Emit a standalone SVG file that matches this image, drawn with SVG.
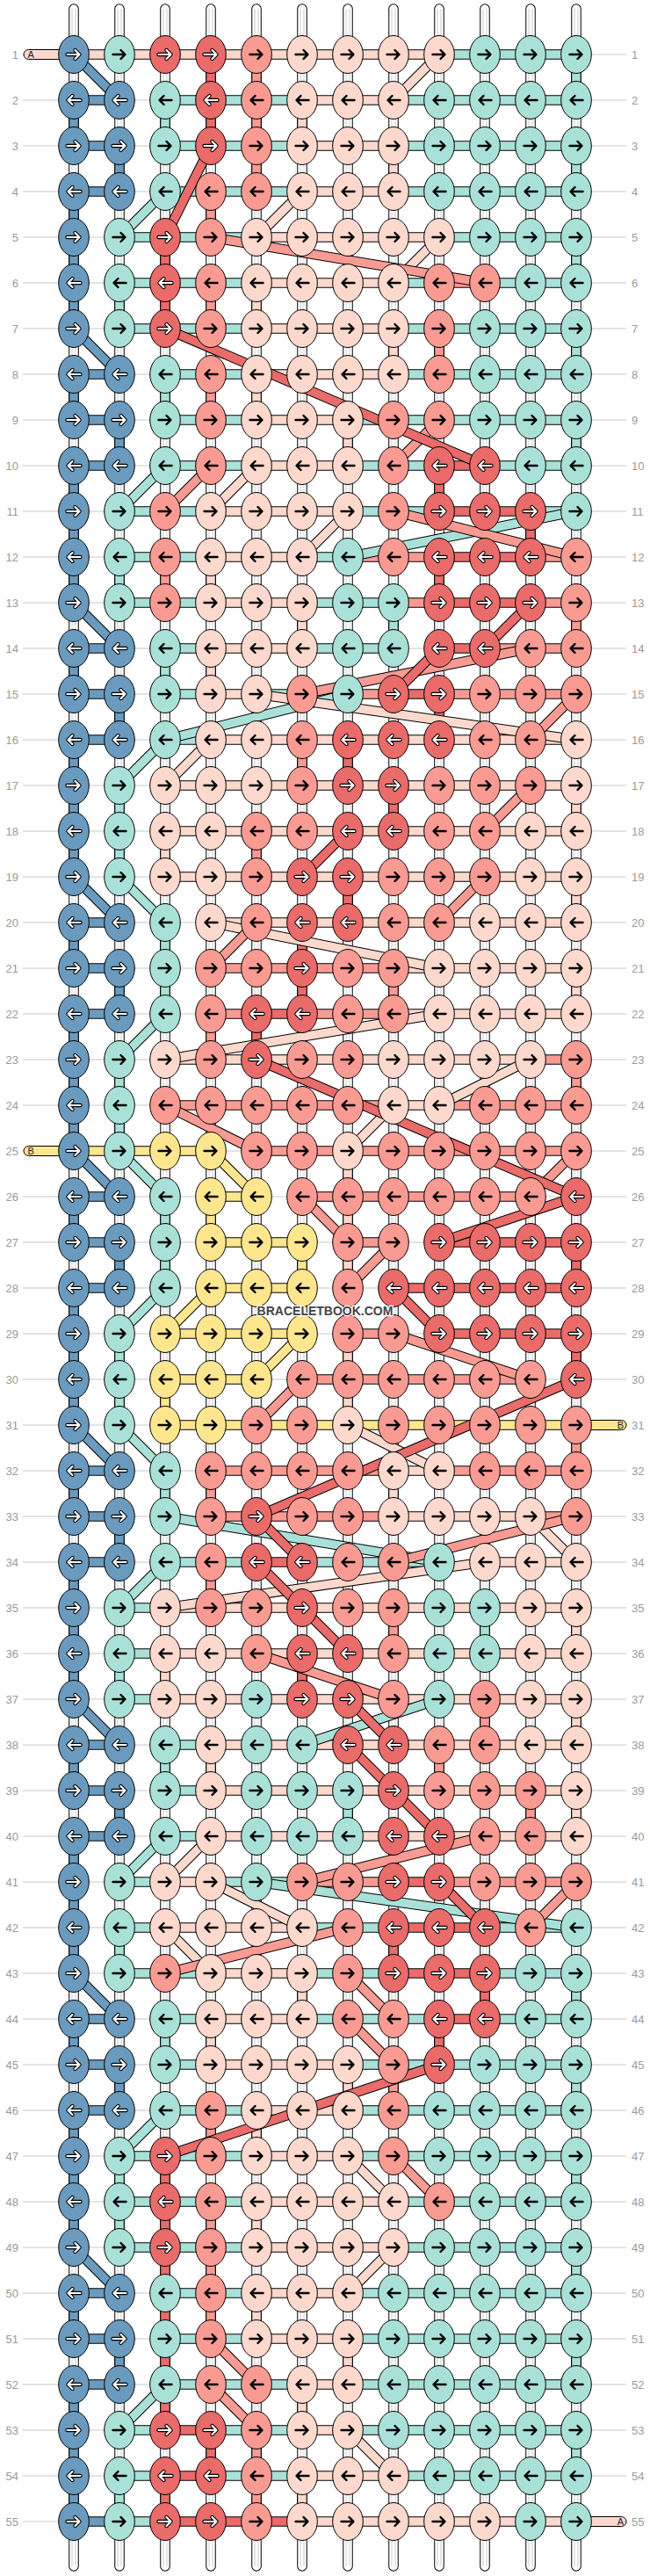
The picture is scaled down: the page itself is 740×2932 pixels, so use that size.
<svg xmlns="http://www.w3.org/2000/svg" width="740" height="2932" viewBox="0 0 740 2932">
<style>
.gl{fill:none;stroke:#c8c8c8;stroke-width:1}
.lb{font:13px "Liberation Sans",Arial,sans-serif;fill:#9a9a9a}
.e{stroke:#000;stroke-width:1}
.o{fill:none;stroke:#000;stroke-width:11.5}
.c{fill:none;stroke-width:9.5}
.bk{fill:none;stroke:#000;stroke-width:2.4;stroke-linecap:round;stroke-linejoin:round}
.wo{fill:none;stroke:#000;stroke-width:4.4;stroke-linecap:round;stroke-linejoin:round}
.wi{fill:none;stroke:#fff;stroke-width:2.2;stroke-linecap:round;stroke-linejoin:round}
.pl{font:11px "Liberation Sans",Arial,sans-serif;fill:#222}
</style>
<defs>
<path id="ar" d="M-7.5 0H6M1.5-5L6.5 0L1.5 5"/>
<path id="al" d="M7.5 0H-6M-1.5-5L-6.5 0L-1.5 5"/>
<g id="Br"><ellipse class="e" rx="17.3" ry="21.5" fill="#6a9bbf"/><use href="#ar" class="wo"/><use href="#ar" class="wi"/></g>
<g id="Bl"><ellipse class="e" rx="17.3" ry="21.5" fill="#6a9bbf"/><use href="#al" class="wo"/><use href="#al" class="wi"/></g>
<g id="Rr"><ellipse class="e" rx="17.3" ry="21.5" fill="#e96b6a"/><use href="#ar" class="wo"/><use href="#ar" class="wi"/></g>
<g id="Rl"><ellipse class="e" rx="17.3" ry="21.5" fill="#e96b6a"/><use href="#al" class="wo"/><use href="#al" class="wi"/></g>
<g id="Mr"><ellipse class="e" rx="17.3" ry="21.5" fill="#a9e1d8"/><use href="#ar" class="bk"/></g>
<g id="Ml"><ellipse class="e" rx="17.3" ry="21.5" fill="#a9e1d8"/><use href="#al" class="bk"/></g>
<g id="Sr"><ellipse class="e" rx="17.3" ry="21.5" fill="#f99b93"/><use href="#ar" class="bk"/></g>
<g id="Sl"><ellipse class="e" rx="17.3" ry="21.5" fill="#f99b93"/><use href="#al" class="bk"/></g>
<g id="Pr"><ellipse class="e" rx="17.3" ry="21.5" fill="#fdd8cd"/><use href="#ar" class="bk"/></g>
<g id="Pl"><ellipse class="e" rx="17.3" ry="21.5" fill="#fdd8cd"/><use href="#al" class="bk"/></g>
<g id="Yr"><ellipse class="e" rx="17.3" ry="21.5" fill="#fee68f"/><use href="#ar" class="bk"/></g>
<g id="Yl"><ellipse class="e" rx="17.3" ry="21.5" fill="#fee68f"/><use href="#al" class="bk"/></g>
<path id="sp" d="M84 10V2921M136 10V2921M188 10V2921M240 10V2921M292 10V2921M344 10V2921M396 10V2921M448 10V2921M500 10V2921M552 10V2921M604 10V2921M656 10V2921"/>
<path id="vB" d="M84 114V166M84 218V374M84 426V478M84 530V686M84 738V790M84 842V998M84 1050V1102M84 1154V1310M84 1362V1414M84 1466V1622M84 1674V1726M84 1778V1934M84 1986V2038M84 2090V2246M84 2298V2350M84 2402V2558M84 2610V2662M84 2714V2870M136 166V218M136 478V530M136 790V842M136 1102V1154M136 1414V1466M136 1726V1778M136 2038V2090M136 2350V2402M136 2662V2714"/>
<path id="vM" d="M656 62V114M656 166V218M656 270V322M656 374V426M656 478V530M656 2246V2298M656 2350V2402M656 2454V2506M656 2558V2610M656 2662V2714M656 2766V2818M188 114V166M188 426V478M188 738V790M188 1050V1154M188 1362V1466M188 1674V1726M188 1986V2038M188 2298V2350M136 322V374M136 634V686M136 894V998M136 1206V1310M136 1518V1622M136 1882V1934M136 2194V2246M136 2454V2558M136 2818V2870M448 686V738M552 1830V1882M396 2038V2090"/>
<path id="vR" d="M240 62V166M240 2766V2818M188 270V374M188 2454V2766M188 2818V2870M500 530V582M500 634V686M500 790V842M500 2298V2350M604 582V634M396 842V894M396 998V1050M448 894V946M448 2090V2142M448 2194V2246M344 1050V1154M344 1882V1934M292 1154V1206M656 1414V1466M656 1518V1570M552 2246V2298"/>
<path id="vS" d="M292 62V218M292 946V998M292 2766V2870M240 218V270M240 322V374M240 426V478M240 1154V1206M240 1674V1726M240 1778V1830M240 2402V2454M240 2506V2662M500 374V426M500 1986V2038M188 634V686M656 686V738M656 1206V1258M656 1622V1674M344 842V894M448 1102V1154M448 1830V1882M448 2350V2402M552 1934V1986M604 2038V2090"/>
<path id="vP" d="M344 114V166M344 686V738M344 2246V2298M344 2714V2766M344 2818V2870M448 166V218M448 374V426M448 1674V1726M292 322V374M292 426V478M292 2402V2454M292 2506V2558M292 2610V2662M396 478V530M396 1310V1622M396 2350V2402M396 2662V2714M240 634V686M240 738V790M240 1986V2038M240 2298V2350M656 894V946M656 998V1050M656 1102V1154M656 1830V1882M656 1934V1986M656 2038V2090M188 946V998M188 1882V1934"/>
<path id="vY" d="M240 1362V1414M344 1414V1466M188 1570V1622"/>
<path id="hP" d="M84 62H500M344 114H448M344 166H448M344 218H448M292 270H500M292 322H448M292 374H448M292 426H448M292 478H396M292 530H396M240 582H396M240 634H344M240 686H344M240 738H344M240 790H292M240 842H656M188 894H656M188 946H656M188 998H656M240 1050H656M448 1102H656M448 1154H656M188 1206H604M448 1258H500M448 1674H500M448 1726H604M552 1778H656M188 1830H656M188 1882H656M188 1934H656M240 1986H656M240 2038H656M240 2090H656M188 2142H240M188 2194H344M240 2246H344M240 2298H344M240 2350H396M292 2402H396M292 2454H396M292 2506H448M292 2558H448M292 2610H396M292 2662H396M344 2714H396M344 2766H396M344 2818H448M344 2870H656"/>
<path id="hM" d="M500 62H656M188 114H344M448 114H656M188 166H344M448 166H656M188 218H344M448 218H656M136 270H292M500 270H656M136 322H292M448 322H500M552 322H656M136 374H292M448 374H656M188 426H292M448 426H656M188 478H292M396 478H656M188 530H292M396 530H500M552 530H656M136 582H240M396 582H500M604 582H656M136 634H240M344 634H396M136 686H240M344 686H448M188 738H240M344 738H448M188 790H240M292 790H396M188 842H240M188 1778H292M344 1778H500M136 1830H188M136 1882H188M136 1934H188M188 1986H240M188 2038H240M188 2090H240M136 2142H188M240 2142H344M136 2194H188M344 2194H448M552 2194H656M136 2246H240M344 2246H448M552 2246H656M188 2298H240M344 2298H500M552 2298H656M188 2350H240M396 2350H656M188 2402H292M396 2402H656M136 2454H292M396 2454H656M136 2506H292M448 2506H656M136 2558H292M448 2558H656M188 2610H292M396 2610H656M188 2662H292M396 2662H656M188 2714H344M396 2714H656M136 2766H188M240 2766H344M396 2766H656M136 2818H188M240 2818H344M448 2818H656M136 2870H188"/>
<path id="hB" d="M84 114H136M84 166H136M84 218H136M84 426H136M84 478H136M84 530H136M84 738H136M84 790H136M84 842H136M84 1050H136M84 1102H136M84 1154H136M84 1362H136M84 1414H136M84 1466H136M84 1674H136M84 1726H136M84 1778H136M84 1986H136M84 2038H136M84 2090H136M84 2298H136M84 2350H136M84 2402H136M84 2610H136M84 2662H136M84 2714H136M84 2870H136"/>
<path id="hS" d="M500 322H552M396 634H500M604 634H656M448 686H500M604 686H656M552 738H656M396 790H448M500 790H656M240 1102H448M240 1154H292M344 1154H448M604 1206H656M188 1258H448M500 1258H656M292 1310H656M344 1362H604M396 1414H448M396 1518H448M344 1570H604M240 1674H448M500 1674H656M240 1726H448M604 1726H656M344 2142H448M500 2142H656"/>
<path id="hR" d="M500 530H552M500 582H604M500 634H604M500 686H604M500 738H552M448 790H500M292 1154H344M500 1414H656M448 1466H656M500 1518H656M292 1778H344M448 2142H500M448 2194H552M448 2246H552M500 2298H552M188 2766H240M188 2818H240M188 2870H344"/>
<path id="hY" d="M84 1310H240M240 1362H292M240 1414H344M240 1466H344M188 1518H344M188 1570H292M188 1622H656"/>
<path id="dB" d="M84 62L136 114M84 374L136 426M84 686L136 738M84 998L136 1050M84 1310L136 1362M84 1622L136 1674M84 1934L136 1986M84 2246L136 2298M84 2558L136 2610"/>
<path id="dM" d="M188 218L136 270M188 530L136 582M188 842L136 894M188 1154L136 1206M188 1466L136 1518M188 1778L136 1830M188 2090L136 2142M188 2402L136 2454M188 2714L136 2766M136 998L188 1050M136 1310L188 1362M136 1622L188 1674M656 582L396 634M396 790L188 842M188 1726L500 1778M500 1934L344 1986M292 2142L656 2194"/>
<path id="dR" d="M240 166L188 270M188 374L552 530M604 686L552 738M500 738L448 790M396 946L344 998M292 1206L656 1362M656 1362L500 1414M448 1466L500 1518M656 1570L292 1726M292 1726L344 1778M292 1778L344 1830M344 1830L396 1882M396 1934L448 1986M396 1986L448 2038M448 2038L500 2090M500 2142L552 2194M500 2350L188 2454"/>
<path id="dS" d="M240 270L552 322M500 478L448 530M240 530L188 582M448 582L656 634M604 738L344 790M656 790L604 842M604 894L552 946M552 998L500 1050M292 1050L240 1102M188 1258L292 1310M656 1310L604 1362M344 1362L396 1414M448 1414L396 1466M448 1518L604 1570M344 1570L292 1622M656 1726L448 1778M292 1882L448 1934M552 2090L344 2142M656 2142L604 2194M396 2194L188 2246M396 2246L448 2298M396 2298L448 2350M448 2454L500 2506M240 2662L292 2714M240 2714L292 2766"/>
<path id="dP" d="M500 62L448 114M344 218L292 270M500 270L448 322M292 530L240 582M396 582L344 634M292 790L656 842M240 842L188 894M240 1050L500 1102M500 1154L188 1206M604 1206L500 1258M448 1258L396 1310M396 1622L500 1674M604 1726L656 1778M552 1778L188 1830M240 2090L188 2142M240 2142L344 2194M188 2194L240 2246M396 2454L448 2506M448 2558L396 2610M396 2766L448 2818"/>
<path id="dY" d="M240 1310L292 1362M240 1466L188 1518M344 1518L292 1570"/>
</defs>
<rect width="740" height="2932" fill="#fff"/>
<path class="gl" d="M26 62H713M26 114H713M26 166H713M26 218H713M26 270H713M26 322H713M26 374H713M26 426H713M26 478H713M26 530H713M26 582H713M26 634H713M26 686H713M26 738H713M26 790H713M26 842H713M26 894H713M26 946H713M26 998H713M26 1050H713M26 1102H713M26 1154H713M26 1206H713M26 1258H713M26 1310H713M26 1362H713M26 1414H713M26 1466H713M26 1518H713M26 1570H713M26 1622H713M26 1674H713M26 1726H713M26 1778H713M26 1830H713M26 1882H713M26 1934H713M26 1986H713M26 2038H713M26 2090H713M26 2142H713M26 2194H713M26 2246H713M26 2298H713M26 2350H713M26 2402H713M26 2454H713M26 2506H713M26 2558H713M26 2610H713M26 2662H713M26 2714H713M26 2766H713M26 2818H713M26 2870H713"/>
<g id="strings">
<use href="#sp" fill="none" stroke="#000" stroke-width="11.5" stroke-linecap="round"/>
<use href="#sp" fill="none" stroke="#fff" stroke-width="9.5" stroke-linecap="round"/>
<use href="#sp" fill="none" stroke="#cdcdcd" stroke-width="1" transform="translate(-2,0)"/>
<use href="#sp" fill="none" stroke="#cdcdcd" stroke-width="1" transform="translate(2,0)"/>
</g>
<g id="pills">
<rect x="27" y="56.5" width="62" height="11" rx="5.5" fill="#fdd8cd" stroke="#000"/>
<rect x="27" y="1304.5" width="62" height="11" rx="5.5" fill="#fee68f" stroke="#000"/>
<rect x="651" y="1616.5" width="62" height="11" rx="5.5" fill="#fee68f" stroke="#000"/>
<rect x="651" y="2864.5" width="62" height="11" rx="5.5" fill="#fdd8cd" stroke="#000"/>
<text class="pl" x="31.5" y="66">A</text>
<text class="pl" x="31.5" y="1314">B</text>
<text class="pl" x="710" y="1626" text-anchor="end">B</text>
<text class="pl" x="710" y="2874" text-anchor="end">A</text>
</g>
<g id="connectors">
<use href="#vB" class="o"/><use href="#vB" class="c" stroke="#6a9bbf"/>
<use href="#vM" class="o"/><use href="#vM" class="c" stroke="#a9e1d8"/>
<use href="#vR" class="o"/><use href="#vR" class="c" stroke="#e96b6a"/>
<use href="#vS" class="o"/><use href="#vS" class="c" stroke="#f99b93"/>
<use href="#vP" class="o"/><use href="#vP" class="c" stroke="#fdd8cd"/>
<use href="#vY" class="o"/><use href="#vY" class="c" stroke="#fee68f"/>
<use href="#hP" class="o"/><use href="#hP" class="c" stroke="#fdd8cd"/>
<use href="#hM" class="o"/><use href="#hM" class="c" stroke="#a9e1d8"/>
<use href="#hB" class="o"/><use href="#hB" class="c" stroke="#6a9bbf"/>
<use href="#hS" class="o"/><use href="#hS" class="c" stroke="#f99b93"/>
<use href="#hR" class="o"/><use href="#hR" class="c" stroke="#e96b6a"/>
<use href="#hY" class="o"/><use href="#hY" class="c" stroke="#fee68f"/>
<use href="#dB" class="o"/><use href="#dB" class="c" stroke="#6a9bbf"/>
<use href="#dM" class="o"/><use href="#dM" class="c" stroke="#a9e1d8"/>
<use href="#dP" class="o"/><use href="#dP" class="c" stroke="#fdd8cd"/>
<use href="#dS" class="o"/><use href="#dS" class="c" stroke="#f99b93"/>
<use href="#dR" class="o"/><use href="#dR" class="c" stroke="#e96b6a"/>
<use href="#dY" class="o"/><use href="#dY" class="c" stroke="#fee68f"/>
</g>
<g id="knots">
<g id="row1" transform="translate(0,62)"><text class="lb" x="21" y="4.5" text-anchor="end">1</text><text class="lb" x="719" y="4.5">1</text><use id="k1_1" href="#Br" x="84"/><use id="k1_2" href="#Mr" x="136"/><use id="k1_3" href="#Rr" x="188"/><use id="k1_4" href="#Rr" x="240"/><use id="k1_5" href="#Sr" x="292"/><use id="k1_6" href="#Pr" x="344"/><use id="k1_7" href="#Pr" x="396"/><use id="k1_8" href="#Pr" x="448"/><use id="k1_9" href="#Pr" x="500"/><use id="k1_10" href="#Mr" x="552"/><use id="k1_11" href="#Mr" x="604"/><use id="k1_12" href="#Mr" x="656"/></g>
<g id="row2" transform="translate(0,114)"><text class="lb" x="21" y="4.5" text-anchor="end">2</text><text class="lb" x="719" y="4.5">2</text><use id="k2_1" href="#Bl" x="84"/><use id="k2_2" href="#Bl" x="136"/><use id="k2_3" href="#Ml" x="188"/><use id="k2_4" href="#Rl" x="240"/><use id="k2_5" href="#Sl" x="292"/><use id="k2_6" href="#Pl" x="344"/><use id="k2_7" href="#Pl" x="396"/><use id="k2_8" href="#Pl" x="448"/><use id="k2_9" href="#Ml" x="500"/><use id="k2_10" href="#Ml" x="552"/><use id="k2_11" href="#Ml" x="604"/><use id="k2_12" href="#Ml" x="656"/></g>
<g id="row3" transform="translate(0,166)"><text class="lb" x="21" y="4.5" text-anchor="end">3</text><text class="lb" x="719" y="4.5">3</text><use id="k3_1" href="#Br" x="84"/><use id="k3_2" href="#Br" x="136"/><use id="k3_3" href="#Mr" x="188"/><use id="k3_4" href="#Rr" x="240"/><use id="k3_5" href="#Sr" x="292"/><use id="k3_6" href="#Pr" x="344"/><use id="k3_7" href="#Pr" x="396"/><use id="k3_8" href="#Pr" x="448"/><use id="k3_9" href="#Mr" x="500"/><use id="k3_10" href="#Mr" x="552"/><use id="k3_11" href="#Mr" x="604"/><use id="k3_12" href="#Mr" x="656"/></g>
<g id="row4" transform="translate(0,218)"><text class="lb" x="21" y="4.5" text-anchor="end">4</text><text class="lb" x="719" y="4.5">4</text><use id="k4_1" href="#Bl" x="84"/><use id="k4_2" href="#Bl" x="136"/><use id="k4_3" href="#Ml" x="188"/><use id="k4_4" href="#Sl" x="240"/><use id="k4_5" href="#Sl" x="292"/><use id="k4_6" href="#Pl" x="344"/><use id="k4_7" href="#Pl" x="396"/><use id="k4_8" href="#Pl" x="448"/><use id="k4_9" href="#Ml" x="500"/><use id="k4_10" href="#Ml" x="552"/><use id="k4_11" href="#Ml" x="604"/><use id="k4_12" href="#Ml" x="656"/></g>
<g id="row5" transform="translate(0,270)"><text class="lb" x="21" y="4.5" text-anchor="end">5</text><text class="lb" x="719" y="4.5">5</text><use id="k5_1" href="#Br" x="84"/><use id="k5_2" href="#Mr" x="136"/><use id="k5_3" href="#Rr" x="188"/><use id="k5_4" href="#Sr" x="240"/><use id="k5_5" href="#Pr" x="292"/><use id="k5_6" href="#Pr" x="344"/><use id="k5_7" href="#Pr" x="396"/><use id="k5_8" href="#Pr" x="448"/><use id="k5_9" href="#Pr" x="500"/><use id="k5_10" href="#Mr" x="552"/><use id="k5_11" href="#Mr" x="604"/><use id="k5_12" href="#Mr" x="656"/></g>
<g id="row6" transform="translate(0,322)"><text class="lb" x="21" y="4.5" text-anchor="end">6</text><text class="lb" x="719" y="4.5">6</text><use id="k6_1" href="#Bl" x="84"/><use id="k6_2" href="#Ml" x="136"/><use id="k6_3" href="#Rl" x="188"/><use id="k6_4" href="#Sl" x="240"/><use id="k6_5" href="#Pl" x="292"/><use id="k6_6" href="#Pl" x="344"/><use id="k6_7" href="#Pl" x="396"/><use id="k6_8" href="#Pl" x="448"/><use id="k6_9" href="#Sl" x="500"/><use id="k6_10" href="#Sl" x="552"/><use id="k6_11" href="#Ml" x="604"/><use id="k6_12" href="#Ml" x="656"/></g>
<g id="row7" transform="translate(0,374)"><text class="lb" x="21" y="4.5" text-anchor="end">7</text><text class="lb" x="719" y="4.5">7</text><use id="k7_1" href="#Br" x="84"/><use id="k7_2" href="#Mr" x="136"/><use id="k7_3" href="#Rr" x="188"/><use id="k7_4" href="#Sr" x="240"/><use id="k7_5" href="#Pr" x="292"/><use id="k7_6" href="#Pr" x="344"/><use id="k7_7" href="#Pr" x="396"/><use id="k7_8" href="#Pr" x="448"/><use id="k7_9" href="#Sr" x="500"/><use id="k7_10" href="#Mr" x="552"/><use id="k7_11" href="#Mr" x="604"/><use id="k7_12" href="#Mr" x="656"/></g>
<g id="row8" transform="translate(0,426)"><text class="lb" x="21" y="4.5" text-anchor="end">8</text><text class="lb" x="719" y="4.5">8</text><use id="k8_1" href="#Bl" x="84"/><use id="k8_2" href="#Bl" x="136"/><use id="k8_3" href="#Ml" x="188"/><use id="k8_4" href="#Sl" x="240"/><use id="k8_5" href="#Pl" x="292"/><use id="k8_6" href="#Pl" x="344"/><use id="k8_7" href="#Pl" x="396"/><use id="k8_8" href="#Pl" x="448"/><use id="k8_9" href="#Sl" x="500"/><use id="k8_10" href="#Ml" x="552"/><use id="k8_11" href="#Ml" x="604"/><use id="k8_12" href="#Ml" x="656"/></g>
<g id="row9" transform="translate(0,478)"><text class="lb" x="21" y="4.5" text-anchor="end">9</text><text class="lb" x="719" y="4.5">9</text><use id="k9_1" href="#Br" x="84"/><use id="k9_2" href="#Br" x="136"/><use id="k9_3" href="#Mr" x="188"/><use id="k9_4" href="#Sr" x="240"/><use id="k9_5" href="#Pr" x="292"/><use id="k9_6" href="#Pr" x="344"/><use id="k9_7" href="#Pr" x="396"/><use id="k9_8" href="#Sr" x="448"/><use id="k9_9" href="#Sr" x="500"/><use id="k9_10" href="#Mr" x="552"/><use id="k9_11" href="#Mr" x="604"/><use id="k9_12" href="#Mr" x="656"/></g>
<g id="row10" transform="translate(0,530)"><text class="lb" x="21" y="4.5" text-anchor="end">10</text><text class="lb" x="719" y="4.5">10</text><use id="k10_1" href="#Bl" x="84"/><use id="k10_2" href="#Bl" x="136"/><use id="k10_3" href="#Ml" x="188"/><use id="k10_4" href="#Sl" x="240"/><use id="k10_5" href="#Pl" x="292"/><use id="k10_6" href="#Pl" x="344"/><use id="k10_7" href="#Pl" x="396"/><use id="k10_8" href="#Sl" x="448"/><use id="k10_9" href="#Rl" x="500"/><use id="k10_10" href="#Rl" x="552"/><use id="k10_11" href="#Ml" x="604"/><use id="k10_12" href="#Ml" x="656"/></g>
<g id="row11" transform="translate(0,582)"><text class="lb" x="21" y="4.5" text-anchor="end">11</text><text class="lb" x="719" y="4.5">11</text><use id="k11_1" href="#Br" x="84"/><use id="k11_2" href="#Mr" x="136"/><use id="k11_3" href="#Sr" x="188"/><use id="k11_4" href="#Pr" x="240"/><use id="k11_5" href="#Pr" x="292"/><use id="k11_6" href="#Pr" x="344"/><use id="k11_7" href="#Pr" x="396"/><use id="k11_8" href="#Sr" x="448"/><use id="k11_9" href="#Rr" x="500"/><use id="k11_10" href="#Rr" x="552"/><use id="k11_11" href="#Rr" x="604"/><use id="k11_12" href="#Mr" x="656"/></g>
<g id="row12" transform="translate(0,634)"><text class="lb" x="21" y="4.5" text-anchor="end">12</text><text class="lb" x="719" y="4.5">12</text><use id="k12_1" href="#Bl" x="84"/><use id="k12_2" href="#Ml" x="136"/><use id="k12_3" href="#Sl" x="188"/><use id="k12_4" href="#Pl" x="240"/><use id="k12_5" href="#Pl" x="292"/><use id="k12_6" href="#Pl" x="344"/><use id="k12_7" href="#Ml" x="396"/><use id="k12_8" href="#Sl" x="448"/><use id="k12_9" href="#Rl" x="500"/><use id="k12_10" href="#Rl" x="552"/><use id="k12_11" href="#Rl" x="604"/><use id="k12_12" href="#Sl" x="656"/></g>
<g id="row13" transform="translate(0,686)"><text class="lb" x="21" y="4.5" text-anchor="end">13</text><text class="lb" x="719" y="4.5">13</text><use id="k13_1" href="#Br" x="84"/><use id="k13_2" href="#Mr" x="136"/><use id="k13_3" href="#Sr" x="188"/><use id="k13_4" href="#Pr" x="240"/><use id="k13_5" href="#Pr" x="292"/><use id="k13_6" href="#Pr" x="344"/><use id="k13_7" href="#Mr" x="396"/><use id="k13_8" href="#Mr" x="448"/><use id="k13_9" href="#Rr" x="500"/><use id="k13_10" href="#Rr" x="552"/><use id="k13_11" href="#Rr" x="604"/><use id="k13_12" href="#Sr" x="656"/></g>
<g id="row14" transform="translate(0,738)"><text class="lb" x="21" y="4.5" text-anchor="end">14</text><text class="lb" x="719" y="4.5">14</text><use id="k14_1" href="#Bl" x="84"/><use id="k14_2" href="#Bl" x="136"/><use id="k14_3" href="#Ml" x="188"/><use id="k14_4" href="#Pl" x="240"/><use id="k14_5" href="#Pl" x="292"/><use id="k14_6" href="#Pl" x="344"/><use id="k14_7" href="#Ml" x="396"/><use id="k14_8" href="#Ml" x="448"/><use id="k14_9" href="#Rl" x="500"/><use id="k14_10" href="#Rl" x="552"/><use id="k14_11" href="#Sl" x="604"/><use id="k14_12" href="#Sl" x="656"/></g>
<g id="row15" transform="translate(0,790)"><text class="lb" x="21" y="4.5" text-anchor="end">15</text><text class="lb" x="719" y="4.5">15</text><use id="k15_1" href="#Br" x="84"/><use id="k15_2" href="#Br" x="136"/><use id="k15_3" href="#Mr" x="188"/><use id="k15_4" href="#Pr" x="240"/><use id="k15_5" href="#Pr" x="292"/><use id="k15_6" href="#Sr" x="344"/><use id="k15_7" href="#Mr" x="396"/><use id="k15_8" href="#Rr" x="448"/><use id="k15_9" href="#Rr" x="500"/><use id="k15_10" href="#Sr" x="552"/><use id="k15_11" href="#Sr" x="604"/><use id="k15_12" href="#Sr" x="656"/></g>
<g id="row16" transform="translate(0,842)"><text class="lb" x="21" y="4.5" text-anchor="end">16</text><text class="lb" x="719" y="4.5">16</text><use id="k16_1" href="#Bl" x="84"/><use id="k16_2" href="#Bl" x="136"/><use id="k16_3" href="#Ml" x="188"/><use id="k16_4" href="#Pl" x="240"/><use id="k16_5" href="#Pl" x="292"/><use id="k16_6" href="#Sl" x="344"/><use id="k16_7" href="#Rl" x="396"/><use id="k16_8" href="#Rl" x="448"/><use id="k16_9" href="#Rl" x="500"/><use id="k16_10" href="#Sl" x="552"/><use id="k16_11" href="#Sl" x="604"/><use id="k16_12" href="#Pl" x="656"/></g>
<g id="row17" transform="translate(0,894)"><text class="lb" x="21" y="4.5" text-anchor="end">17</text><text class="lb" x="719" y="4.5">17</text><use id="k17_1" href="#Br" x="84"/><use id="k17_2" href="#Mr" x="136"/><use id="k17_3" href="#Pr" x="188"/><use id="k17_4" href="#Pr" x="240"/><use id="k17_5" href="#Pr" x="292"/><use id="k17_6" href="#Sr" x="344"/><use id="k17_7" href="#Rr" x="396"/><use id="k17_8" href="#Rr" x="448"/><use id="k17_9" href="#Sr" x="500"/><use id="k17_10" href="#Sr" x="552"/><use id="k17_11" href="#Sr" x="604"/><use id="k17_12" href="#Pr" x="656"/></g>
<g id="row18" transform="translate(0,946)"><text class="lb" x="21" y="4.5" text-anchor="end">18</text><text class="lb" x="719" y="4.5">18</text><use id="k18_1" href="#Bl" x="84"/><use id="k18_2" href="#Ml" x="136"/><use id="k18_3" href="#Pl" x="188"/><use id="k18_4" href="#Pl" x="240"/><use id="k18_5" href="#Sl" x="292"/><use id="k18_6" href="#Sl" x="344"/><use id="k18_7" href="#Rl" x="396"/><use id="k18_8" href="#Rl" x="448"/><use id="k18_9" href="#Sl" x="500"/><use id="k18_10" href="#Sl" x="552"/><use id="k18_11" href="#Pl" x="604"/><use id="k18_12" href="#Pl" x="656"/></g>
<g id="row19" transform="translate(0,998)"><text class="lb" x="21" y="4.5" text-anchor="end">19</text><text class="lb" x="719" y="4.5">19</text><use id="k19_1" href="#Br" x="84"/><use id="k19_2" href="#Mr" x="136"/><use id="k19_3" href="#Pr" x="188"/><use id="k19_4" href="#Pr" x="240"/><use id="k19_5" href="#Sr" x="292"/><use id="k19_6" href="#Rr" x="344"/><use id="k19_7" href="#Rr" x="396"/><use id="k19_8" href="#Sr" x="448"/><use id="k19_9" href="#Sr" x="500"/><use id="k19_10" href="#Sr" x="552"/><use id="k19_11" href="#Pr" x="604"/><use id="k19_12" href="#Pr" x="656"/></g>
<g id="row20" transform="translate(0,1050)"><text class="lb" x="21" y="4.5" text-anchor="end">20</text><text class="lb" x="719" y="4.5">20</text><use id="k20_1" href="#Bl" x="84"/><use id="k20_2" href="#Bl" x="136"/><use id="k20_3" href="#Ml" x="188"/><use id="k20_4" href="#Pl" x="240"/><use id="k20_5" href="#Sl" x="292"/><use id="k20_6" href="#Rl" x="344"/><use id="k20_7" href="#Rl" x="396"/><use id="k20_8" href="#Sl" x="448"/><use id="k20_9" href="#Sl" x="500"/><use id="k20_10" href="#Pl" x="552"/><use id="k20_11" href="#Pl" x="604"/><use id="k20_12" href="#Pl" x="656"/></g>
<g id="row21" transform="translate(0,1102)"><text class="lb" x="21" y="4.5" text-anchor="end">21</text><text class="lb" x="719" y="4.5">21</text><use id="k21_1" href="#Br" x="84"/><use id="k21_2" href="#Br" x="136"/><use id="k21_3" href="#Mr" x="188"/><use id="k21_4" href="#Sr" x="240"/><use id="k21_5" href="#Sr" x="292"/><use id="k21_6" href="#Rr" x="344"/><use id="k21_7" href="#Sr" x="396"/><use id="k21_8" href="#Sr" x="448"/><use id="k21_9" href="#Pr" x="500"/><use id="k21_10" href="#Pr" x="552"/><use id="k21_11" href="#Pr" x="604"/><use id="k21_12" href="#Pr" x="656"/></g>
<g id="row22" transform="translate(0,1154)"><text class="lb" x="21" y="4.5" text-anchor="end">22</text><text class="lb" x="719" y="4.5">22</text><use id="k22_1" href="#Bl" x="84"/><use id="k22_2" href="#Bl" x="136"/><use id="k22_3" href="#Ml" x="188"/><use id="k22_4" href="#Sl" x="240"/><use id="k22_5" href="#Rl" x="292"/><use id="k22_6" href="#Rl" x="344"/><use id="k22_7" href="#Sl" x="396"/><use id="k22_8" href="#Sl" x="448"/><use id="k22_9" href="#Pl" x="500"/><use id="k22_10" href="#Pl" x="552"/><use id="k22_11" href="#Pl" x="604"/><use id="k22_12" href="#Pl" x="656"/></g>
<g id="row23" transform="translate(0,1206)"><text class="lb" x="21" y="4.5" text-anchor="end">23</text><text class="lb" x="719" y="4.5">23</text><use id="k23_1" href="#Br" x="84"/><use id="k23_2" href="#Mr" x="136"/><use id="k23_3" href="#Pr" x="188"/><use id="k23_4" href="#Sr" x="240"/><use id="k23_5" href="#Rr" x="292"/><use id="k23_6" href="#Sr" x="344"/><use id="k23_7" href="#Sr" x="396"/><use id="k23_8" href="#Pr" x="448"/><use id="k23_9" href="#Pr" x="500"/><use id="k23_10" href="#Pr" x="552"/><use id="k23_11" href="#Pr" x="604"/><use id="k23_12" href="#Sr" x="656"/></g>
<g id="row24" transform="translate(0,1258)"><text class="lb" x="21" y="4.5" text-anchor="end">24</text><text class="lb" x="719" y="4.5">24</text><use id="k24_1" href="#Bl" x="84"/><use id="k24_2" href="#Ml" x="136"/><use id="k24_3" href="#Sl" x="188"/><use id="k24_4" href="#Sl" x="240"/><use id="k24_5" href="#Sl" x="292"/><use id="k24_6" href="#Sl" x="344"/><use id="k24_7" href="#Sl" x="396"/><use id="k24_8" href="#Pl" x="448"/><use id="k24_9" href="#Pl" x="500"/><use id="k24_10" href="#Sl" x="552"/><use id="k24_11" href="#Sl" x="604"/><use id="k24_12" href="#Sl" x="656"/></g>
<g id="row25" transform="translate(0,1310)"><text class="lb" x="21" y="4.5" text-anchor="end">25</text><text class="lb" x="719" y="4.5">25</text><use id="k25_1" href="#Br" x="84"/><use id="k25_2" href="#Mr" x="136"/><use id="k25_3" href="#Yr" x="188"/><use id="k25_4" href="#Yr" x="240"/><use id="k25_5" href="#Sr" x="292"/><use id="k25_6" href="#Sr" x="344"/><use id="k25_7" href="#Pr" x="396"/><use id="k25_8" href="#Sr" x="448"/><use id="k25_9" href="#Sr" x="500"/><use id="k25_10" href="#Sr" x="552"/><use id="k25_11" href="#Sr" x="604"/><use id="k25_12" href="#Sr" x="656"/></g>
<g id="row26" transform="translate(0,1362)"><text class="lb" x="21" y="4.5" text-anchor="end">26</text><text class="lb" x="719" y="4.5">26</text><use id="k26_1" href="#Bl" x="84"/><use id="k26_2" href="#Bl" x="136"/><use id="k26_3" href="#Ml" x="188"/><use id="k26_4" href="#Yl" x="240"/><use id="k26_5" href="#Yl" x="292"/><use id="k26_6" href="#Sl" x="344"/><use id="k26_7" href="#Sl" x="396"/><use id="k26_8" href="#Sl" x="448"/><use id="k26_9" href="#Sl" x="500"/><use id="k26_10" href="#Sl" x="552"/><use id="k26_11" href="#Sl" x="604"/><use id="k26_12" href="#Rl" x="656"/></g>
<g id="row27" transform="translate(0,1414)"><text class="lb" x="21" y="4.5" text-anchor="end">27</text><text class="lb" x="719" y="4.5">27</text><use id="k27_1" href="#Br" x="84"/><use id="k27_2" href="#Br" x="136"/><use id="k27_3" href="#Mr" x="188"/><use id="k27_4" href="#Yr" x="240"/><use id="k27_5" href="#Yr" x="292"/><use id="k27_6" href="#Yr" x="344"/><use id="k27_7" href="#Sr" x="396"/><use id="k27_8" href="#Sr" x="448"/><use id="k27_9" href="#Rr" x="500"/><use id="k27_10" href="#Rr" x="552"/><use id="k27_11" href="#Rr" x="604"/><use id="k27_12" href="#Rr" x="656"/></g>
<g id="row28" transform="translate(0,1466)"><text class="lb" x="21" y="4.5" text-anchor="end">28</text><text class="lb" x="719" y="4.5">28</text><use id="k28_1" href="#Bl" x="84"/><use id="k28_2" href="#Bl" x="136"/><use id="k28_3" href="#Ml" x="188"/><use id="k28_4" href="#Yl" x="240"/><use id="k28_5" href="#Yl" x="292"/><use id="k28_6" href="#Yl" x="344"/><use id="k28_7" href="#Sl" x="396"/><use id="k28_8" href="#Rl" x="448"/><use id="k28_9" href="#Rl" x="500"/><use id="k28_10" href="#Rl" x="552"/><use id="k28_11" href="#Rl" x="604"/><use id="k28_12" href="#Rl" x="656"/></g>
<g id="row29" transform="translate(0,1518)"><text class="lb" x="21" y="4.5" text-anchor="end">29</text><text class="lb" x="719" y="4.5">29</text><use id="k29_1" href="#Br" x="84"/><use id="k29_2" href="#Mr" x="136"/><use id="k29_3" href="#Yr" x="188"/><use id="k29_4" href="#Yr" x="240"/><use id="k29_5" href="#Yr" x="292"/><use id="k29_6" href="#Yr" x="344"/><use id="k29_7" href="#Sr" x="396"/><use id="k29_8" href="#Sr" x="448"/><use id="k29_9" href="#Rr" x="500"/><use id="k29_10" href="#Rr" x="552"/><use id="k29_11" href="#Rr" x="604"/><use id="k29_12" href="#Rr" x="656"/></g>
<g id="row30" transform="translate(0,1570)"><text class="lb" x="21" y="4.5" text-anchor="end">30</text><text class="lb" x="719" y="4.5">30</text><use id="k30_1" href="#Bl" x="84"/><use id="k30_2" href="#Ml" x="136"/><use id="k30_3" href="#Yl" x="188"/><use id="k30_4" href="#Yl" x="240"/><use id="k30_5" href="#Yl" x="292"/><use id="k30_6" href="#Sl" x="344"/><use id="k30_7" href="#Sl" x="396"/><use id="k30_8" href="#Sl" x="448"/><use id="k30_9" href="#Sl" x="500"/><use id="k30_10" href="#Sl" x="552"/><use id="k30_11" href="#Sl" x="604"/><use id="k30_12" href="#Rl" x="656"/></g>
<g id="row31" transform="translate(0,1622)"><text class="lb" x="21" y="4.5" text-anchor="end">31</text><text class="lb" x="719" y="4.5">31</text><use id="k31_1" href="#Br" x="84"/><use id="k31_2" href="#Mr" x="136"/><use id="k31_3" href="#Yr" x="188"/><use id="k31_4" href="#Yr" x="240"/><use id="k31_5" href="#Sr" x="292"/><use id="k31_6" href="#Sr" x="344"/><use id="k31_7" href="#Pr" x="396"/><use id="k31_8" href="#Sr" x="448"/><use id="k31_9" href="#Sr" x="500"/><use id="k31_10" href="#Sr" x="552"/><use id="k31_11" href="#Sr" x="604"/><use id="k31_12" href="#Sr" x="656"/></g>
<g id="row32" transform="translate(0,1674)"><text class="lb" x="21" y="4.5" text-anchor="end">32</text><text class="lb" x="719" y="4.5">32</text><use id="k32_1" href="#Bl" x="84"/><use id="k32_2" href="#Bl" x="136"/><use id="k32_3" href="#Ml" x="188"/><use id="k32_4" href="#Sl" x="240"/><use id="k32_5" href="#Sl" x="292"/><use id="k32_6" href="#Sl" x="344"/><use id="k32_7" href="#Sl" x="396"/><use id="k32_8" href="#Pl" x="448"/><use id="k32_9" href="#Pl" x="500"/><use id="k32_10" href="#Sl" x="552"/><use id="k32_11" href="#Sl" x="604"/><use id="k32_12" href="#Sl" x="656"/></g>
<g id="row33" transform="translate(0,1726)"><text class="lb" x="21" y="4.5" text-anchor="end">33</text><text class="lb" x="719" y="4.5">33</text><use id="k33_1" href="#Br" x="84"/><use id="k33_2" href="#Br" x="136"/><use id="k33_3" href="#Mr" x="188"/><use id="k33_4" href="#Sr" x="240"/><use id="k33_5" href="#Rr" x="292"/><use id="k33_6" href="#Sr" x="344"/><use id="k33_7" href="#Sr" x="396"/><use id="k33_8" href="#Pr" x="448"/><use id="k33_9" href="#Pr" x="500"/><use id="k33_10" href="#Pr" x="552"/><use id="k33_11" href="#Pr" x="604"/><use id="k33_12" href="#Sr" x="656"/></g>
<g id="row34" transform="translate(0,1778)"><text class="lb" x="21" y="4.5" text-anchor="end">34</text><text class="lb" x="719" y="4.5">34</text><use id="k34_1" href="#Bl" x="84"/><use id="k34_2" href="#Bl" x="136"/><use id="k34_3" href="#Ml" x="188"/><use id="k34_4" href="#Sl" x="240"/><use id="k34_5" href="#Rl" x="292"/><use id="k34_6" href="#Rl" x="344"/><use id="k34_7" href="#Sl" x="396"/><use id="k34_8" href="#Sl" x="448"/><use id="k34_9" href="#Ml" x="500"/><use id="k34_10" href="#Pl" x="552"/><use id="k34_11" href="#Pl" x="604"/><use id="k34_12" href="#Pl" x="656"/></g>
<g id="row35" transform="translate(0,1830)"><text class="lb" x="21" y="4.5" text-anchor="end">35</text><text class="lb" x="719" y="4.5">35</text><use id="k35_1" href="#Br" x="84"/><use id="k35_2" href="#Mr" x="136"/><use id="k35_3" href="#Pr" x="188"/><use id="k35_4" href="#Sr" x="240"/><use id="k35_5" href="#Sr" x="292"/><use id="k35_6" href="#Rr" x="344"/><use id="k35_7" href="#Sr" x="396"/><use id="k35_8" href="#Sr" x="448"/><use id="k35_9" href="#Mr" x="500"/><use id="k35_10" href="#Mr" x="552"/><use id="k35_11" href="#Pr" x="604"/><use id="k35_12" href="#Pr" x="656"/></g>
<g id="row36" transform="translate(0,1882)"><text class="lb" x="21" y="4.5" text-anchor="end">36</text><text class="lb" x="719" y="4.5">36</text><use id="k36_1" href="#Bl" x="84"/><use id="k36_2" href="#Ml" x="136"/><use id="k36_3" href="#Pl" x="188"/><use id="k36_4" href="#Pl" x="240"/><use id="k36_5" href="#Sl" x="292"/><use id="k36_6" href="#Rl" x="344"/><use id="k36_7" href="#Rl" x="396"/><use id="k36_8" href="#Sl" x="448"/><use id="k36_9" href="#Ml" x="500"/><use id="k36_10" href="#Ml" x="552"/><use id="k36_11" href="#Pl" x="604"/><use id="k36_12" href="#Pl" x="656"/></g>
<g id="row37" transform="translate(0,1934)"><text class="lb" x="21" y="4.5" text-anchor="end">37</text><text class="lb" x="719" y="4.5">37</text><use id="k37_1" href="#Br" x="84"/><use id="k37_2" href="#Mr" x="136"/><use id="k37_3" href="#Pr" x="188"/><use id="k37_4" href="#Pr" x="240"/><use id="k37_5" href="#Mr" x="292"/><use id="k37_6" href="#Rr" x="344"/><use id="k37_7" href="#Rr" x="396"/><use id="k37_8" href="#Sr" x="448"/><use id="k37_9" href="#Mr" x="500"/><use id="k37_10" href="#Sr" x="552"/><use id="k37_11" href="#Pr" x="604"/><use id="k37_12" href="#Pr" x="656"/></g>
<g id="row38" transform="translate(0,1986)"><text class="lb" x="21" y="4.5" text-anchor="end">38</text><text class="lb" x="719" y="4.5">38</text><use id="k38_1" href="#Bl" x="84"/><use id="k38_2" href="#Bl" x="136"/><use id="k38_3" href="#Ml" x="188"/><use id="k38_4" href="#Pl" x="240"/><use id="k38_5" href="#Ml" x="292"/><use id="k38_6" href="#Ml" x="344"/><use id="k38_7" href="#Rl" x="396"/><use id="k38_8" href="#Rl" x="448"/><use id="k38_9" href="#Sl" x="500"/><use id="k38_10" href="#Sl" x="552"/><use id="k38_11" href="#Pl" x="604"/><use id="k38_12" href="#Pl" x="656"/></g>
<g id="row39" transform="translate(0,2038)"><text class="lb" x="21" y="4.5" text-anchor="end">39</text><text class="lb" x="719" y="4.5">39</text><use id="k39_1" href="#Br" x="84"/><use id="k39_2" href="#Br" x="136"/><use id="k39_3" href="#Mr" x="188"/><use id="k39_4" href="#Pr" x="240"/><use id="k39_5" href="#Mr" x="292"/><use id="k39_6" href="#Mr" x="344"/><use id="k39_7" href="#Mr" x="396"/><use id="k39_8" href="#Rr" x="448"/><use id="k39_9" href="#Sr" x="500"/><use id="k39_10" href="#Sr" x="552"/><use id="k39_11" href="#Sr" x="604"/><use id="k39_12" href="#Pr" x="656"/></g>
<g id="row40" transform="translate(0,2090)"><text class="lb" x="21" y="4.5" text-anchor="end">40</text><text class="lb" x="719" y="4.5">40</text><use id="k40_1" href="#Bl" x="84"/><use id="k40_2" href="#Bl" x="136"/><use id="k40_3" href="#Ml" x="188"/><use id="k40_4" href="#Pl" x="240"/><use id="k40_5" href="#Ml" x="292"/><use id="k40_6" href="#Ml" x="344"/><use id="k40_7" href="#Ml" x="396"/><use id="k40_8" href="#Rl" x="448"/><use id="k40_9" href="#Rl" x="500"/><use id="k40_10" href="#Sl" x="552"/><use id="k40_11" href="#Sl" x="604"/><use id="k40_12" href="#Pl" x="656"/></g>
<g id="row41" transform="translate(0,2142)"><text class="lb" x="21" y="4.5" text-anchor="end">41</text><text class="lb" x="719" y="4.5">41</text><use id="k41_1" href="#Br" x="84"/><use id="k41_2" href="#Mr" x="136"/><use id="k41_3" href="#Pr" x="188"/><use id="k41_4" href="#Pr" x="240"/><use id="k41_5" href="#Mr" x="292"/><use id="k41_6" href="#Sr" x="344"/><use id="k41_7" href="#Sr" x="396"/><use id="k41_8" href="#Rr" x="448"/><use id="k41_9" href="#Rr" x="500"/><use id="k41_10" href="#Sr" x="552"/><use id="k41_11" href="#Sr" x="604"/><use id="k41_12" href="#Sr" x="656"/></g>
<g id="row42" transform="translate(0,2194)"><text class="lb" x="21" y="4.5" text-anchor="end">42</text><text class="lb" x="719" y="4.5">42</text><use id="k42_1" href="#Bl" x="84"/><use id="k42_2" href="#Ml" x="136"/><use id="k42_3" href="#Pl" x="188"/><use id="k42_4" href="#Pl" x="240"/><use id="k42_5" href="#Pl" x="292"/><use id="k42_6" href="#Pl" x="344"/><use id="k42_7" href="#Sl" x="396"/><use id="k42_8" href="#Rl" x="448"/><use id="k42_9" href="#Rl" x="500"/><use id="k42_10" href="#Rl" x="552"/><use id="k42_11" href="#Sl" x="604"/><use id="k42_12" href="#Ml" x="656"/></g>
<g id="row43" transform="translate(0,2246)"><text class="lb" x="21" y="4.5" text-anchor="end">43</text><text class="lb" x="719" y="4.5">43</text><use id="k43_1" href="#Br" x="84"/><use id="k43_2" href="#Mr" x="136"/><use id="k43_3" href="#Sr" x="188"/><use id="k43_4" href="#Pr" x="240"/><use id="k43_5" href="#Pr" x="292"/><use id="k43_6" href="#Pr" x="344"/><use id="k43_7" href="#Sr" x="396"/><use id="k43_8" href="#Rr" x="448"/><use id="k43_9" href="#Rr" x="500"/><use id="k43_10" href="#Rr" x="552"/><use id="k43_11" href="#Mr" x="604"/><use id="k43_12" href="#Mr" x="656"/></g>
<g id="row44" transform="translate(0,2298)"><text class="lb" x="21" y="4.5" text-anchor="end">44</text><text class="lb" x="719" y="4.5">44</text><use id="k44_1" href="#Bl" x="84"/><use id="k44_2" href="#Bl" x="136"/><use id="k44_3" href="#Ml" x="188"/><use id="k44_4" href="#Pl" x="240"/><use id="k44_5" href="#Pl" x="292"/><use id="k44_6" href="#Pl" x="344"/><use id="k44_7" href="#Sl" x="396"/><use id="k44_8" href="#Sl" x="448"/><use id="k44_9" href="#Rl" x="500"/><use id="k44_10" href="#Rl" x="552"/><use id="k44_11" href="#Ml" x="604"/><use id="k44_12" href="#Ml" x="656"/></g>
<g id="row45" transform="translate(0,2350)"><text class="lb" x="21" y="4.5" text-anchor="end">45</text><text class="lb" x="719" y="4.5">45</text><use id="k45_1" href="#Br" x="84"/><use id="k45_2" href="#Br" x="136"/><use id="k45_3" href="#Mr" x="188"/><use id="k45_4" href="#Pr" x="240"/><use id="k45_5" href="#Pr" x="292"/><use id="k45_6" href="#Pr" x="344"/><use id="k45_7" href="#Pr" x="396"/><use id="k45_8" href="#Sr" x="448"/><use id="k45_9" href="#Rr" x="500"/><use id="k45_10" href="#Mr" x="552"/><use id="k45_11" href="#Mr" x="604"/><use id="k45_12" href="#Mr" x="656"/></g>
<g id="row46" transform="translate(0,2402)"><text class="lb" x="21" y="4.5" text-anchor="end">46</text><text class="lb" x="719" y="4.5">46</text><use id="k46_1" href="#Bl" x="84"/><use id="k46_2" href="#Bl" x="136"/><use id="k46_3" href="#Ml" x="188"/><use id="k46_4" href="#Sl" x="240"/><use id="k46_5" href="#Pl" x="292"/><use id="k46_6" href="#Pl" x="344"/><use id="k46_7" href="#Pl" x="396"/><use id="k46_8" href="#Sl" x="448"/><use id="k46_9" href="#Ml" x="500"/><use id="k46_10" href="#Ml" x="552"/><use id="k46_11" href="#Ml" x="604"/><use id="k46_12" href="#Ml" x="656"/></g>
<g id="row47" transform="translate(0,2454)"><text class="lb" x="21" y="4.5" text-anchor="end">47</text><text class="lb" x="719" y="4.5">47</text><use id="k47_1" href="#Br" x="84"/><use id="k47_2" href="#Mr" x="136"/><use id="k47_3" href="#Rr" x="188"/><use id="k47_4" href="#Sr" x="240"/><use id="k47_5" href="#Pr" x="292"/><use id="k47_6" href="#Pr" x="344"/><use id="k47_7" href="#Pr" x="396"/><use id="k47_8" href="#Sr" x="448"/><use id="k47_9" href="#Mr" x="500"/><use id="k47_10" href="#Mr" x="552"/><use id="k47_11" href="#Mr" x="604"/><use id="k47_12" href="#Mr" x="656"/></g>
<g id="row48" transform="translate(0,2506)"><text class="lb" x="21" y="4.5" text-anchor="end">48</text><text class="lb" x="719" y="4.5">48</text><use id="k48_1" href="#Bl" x="84"/><use id="k48_2" href="#Ml" x="136"/><use id="k48_3" href="#Rl" x="188"/><use id="k48_4" href="#Sl" x="240"/><use id="k48_5" href="#Pl" x="292"/><use id="k48_6" href="#Pl" x="344"/><use id="k48_7" href="#Pl" x="396"/><use id="k48_8" href="#Pl" x="448"/><use id="k48_9" href="#Sl" x="500"/><use id="k48_10" href="#Ml" x="552"/><use id="k48_11" href="#Ml" x="604"/><use id="k48_12" href="#Ml" x="656"/></g>
<g id="row49" transform="translate(0,2558)"><text class="lb" x="21" y="4.5" text-anchor="end">49</text><text class="lb" x="719" y="4.5">49</text><use id="k49_1" href="#Br" x="84"/><use id="k49_2" href="#Mr" x="136"/><use id="k49_3" href="#Rr" x="188"/><use id="k49_4" href="#Sr" x="240"/><use id="k49_5" href="#Pr" x="292"/><use id="k49_6" href="#Pr" x="344"/><use id="k49_7" href="#Pr" x="396"/><use id="k49_8" href="#Pr" x="448"/><use id="k49_9" href="#Mr" x="500"/><use id="k49_10" href="#Mr" x="552"/><use id="k49_11" href="#Mr" x="604"/><use id="k49_12" href="#Mr" x="656"/></g>
<g id="row50" transform="translate(0,2610)"><text class="lb" x="21" y="4.5" text-anchor="end">50</text><text class="lb" x="719" y="4.5">50</text><use id="k50_1" href="#Bl" x="84"/><use id="k50_2" href="#Bl" x="136"/><use id="k50_3" href="#Ml" x="188"/><use id="k50_4" href="#Sl" x="240"/><use id="k50_5" href="#Pl" x="292"/><use id="k50_6" href="#Pl" x="344"/><use id="k50_7" href="#Pl" x="396"/><use id="k50_8" href="#Ml" x="448"/><use id="k50_9" href="#Ml" x="500"/><use id="k50_10" href="#Ml" x="552"/><use id="k50_11" href="#Ml" x="604"/><use id="k50_12" href="#Ml" x="656"/></g>
<g id="row51" transform="translate(0,2662)"><text class="lb" x="21" y="4.5" text-anchor="end">51</text><text class="lb" x="719" y="4.5">51</text><use id="k51_1" href="#Br" x="84"/><use id="k51_2" href="#Br" x="136"/><use id="k51_3" href="#Mr" x="188"/><use id="k51_4" href="#Sr" x="240"/><use id="k51_5" href="#Pr" x="292"/><use id="k51_6" href="#Pr" x="344"/><use id="k51_7" href="#Pr" x="396"/><use id="k51_8" href="#Mr" x="448"/><use id="k51_9" href="#Mr" x="500"/><use id="k51_10" href="#Mr" x="552"/><use id="k51_11" href="#Mr" x="604"/><use id="k51_12" href="#Mr" x="656"/></g>
<g id="row52" transform="translate(0,2714)"><text class="lb" x="21" y="4.5" text-anchor="end">52</text><text class="lb" x="719" y="4.5">52</text><use id="k52_1" href="#Bl" x="84"/><use id="k52_2" href="#Bl" x="136"/><use id="k52_3" href="#Ml" x="188"/><use id="k52_4" href="#Sl" x="240"/><use id="k52_5" href="#Sl" x="292"/><use id="k52_6" href="#Pl" x="344"/><use id="k52_7" href="#Pl" x="396"/><use id="k52_8" href="#Ml" x="448"/><use id="k52_9" href="#Ml" x="500"/><use id="k52_10" href="#Ml" x="552"/><use id="k52_11" href="#Ml" x="604"/><use id="k52_12" href="#Ml" x="656"/></g>
<g id="row53" transform="translate(0,2766)"><text class="lb" x="21" y="4.5" text-anchor="end">53</text><text class="lb" x="719" y="4.5">53</text><use id="k53_1" href="#Br" x="84"/><use id="k53_2" href="#Mr" x="136"/><use id="k53_3" href="#Rr" x="188"/><use id="k53_4" href="#Rr" x="240"/><use id="k53_5" href="#Sr" x="292"/><use id="k53_6" href="#Pr" x="344"/><use id="k53_7" href="#Pr" x="396"/><use id="k53_8" href="#Mr" x="448"/><use id="k53_9" href="#Mr" x="500"/><use id="k53_10" href="#Mr" x="552"/><use id="k53_11" href="#Mr" x="604"/><use id="k53_12" href="#Mr" x="656"/></g>
<g id="row54" transform="translate(0,2818)"><text class="lb" x="21" y="4.5" text-anchor="end">54</text><text class="lb" x="719" y="4.5">54</text><use id="k54_1" href="#Bl" x="84"/><use id="k54_2" href="#Ml" x="136"/><use id="k54_3" href="#Rl" x="188"/><use id="k54_4" href="#Rl" x="240"/><use id="k54_5" href="#Sl" x="292"/><use id="k54_6" href="#Pl" x="344"/><use id="k54_7" href="#Pl" x="396"/><use id="k54_8" href="#Pl" x="448"/><use id="k54_9" href="#Ml" x="500"/><use id="k54_10" href="#Ml" x="552"/><use id="k54_11" href="#Ml" x="604"/><use id="k54_12" href="#Ml" x="656"/></g>
<g id="row55" transform="translate(0,2870)"><text class="lb" x="21" y="4.5" text-anchor="end">55</text><text class="lb" x="719" y="4.5">55</text><use id="k55_1" href="#Br" x="84"/><use id="k55_2" href="#Mr" x="136"/><use id="k55_3" href="#Rr" x="188"/><use id="k55_4" href="#Rr" x="240"/><use id="k55_5" href="#Sr" x="292"/><use id="k55_6" href="#Pr" x="344"/><use id="k55_7" href="#Pr" x="396"/><use id="k55_8" href="#Pr" x="448"/><use id="k55_9" href="#Pr" x="500"/><use id="k55_10" href="#Pr" x="552"/><use id="k55_11" href="#Mr" x="604"/><use id="k55_12" href="#Mr" x="656"/></g>
</g>
<text x="370" y="1497" text-anchor="middle" style="font:bold 14px 'Liberation Sans',Arial,sans-serif;fill:#444;stroke:#fff;stroke-width:2.5;paint-order:stroke">BRACELETBOOK.COM</text>
</svg>
